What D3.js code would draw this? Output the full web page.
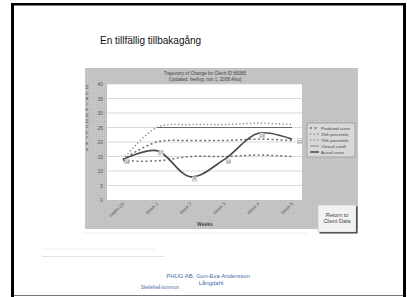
<!DOCTYPE html>
<html>
<head>
<meta charset="utf-8">
<script src="https://cdn.jsdelivr.net/npm/d3@7"></script>
<style>
  body { margin: 0; background: #fff; }
  svg { display: block; font-family: "Liberation Sans", Arial, sans-serif; }
</style>
</head>
<body>
<div id="slide"></div>
<script>
// chart values
var weeks = ["Intake (0)", "Week 1", "Week 2", "Week 3", "Week 4", "Week 5"];
var actualScore = [14, 17, 8, 14, 23, 21];
var predictedScore = [14, 20, 20.5, 20.5, 21, 20.5];
var pct25 = [13.5, 13.5, 15, 15, 15.5, 15];
var pct75 = [14, 25, 26, 26, 26.5, 26];
var cutoff = [null, 25, 25, 25, 25, 25];
var yTicks = [0, 5, 10, 15, 20, 25, 30, 35, 40];
var legendNames = ["Predicted score", "25th percentile", "75th percentile", "Clinical cutoff", "Actual score"];

var width = 407, height = 297;

var svg = d3.select("#slide").append("svg")
    .attr("width", width)
    .attr("height", height);

// dither texture for the pasted chart picture
var pat = svg.append("defs").append("pattern")
    .attr("id", "dither")
    .attr("width", 2).attr("height", 2)
    .attr("patternUnits", "userSpaceOnUse");
pat.append("rect").attr("width", 2).attr("height", 2).style("fill", "#c6c6c6");
pat.append("rect").attr("width", 1).attr("height", 1).style("fill", "#bababa");

// slide frame
svg.append("line").attr("x1", 12.5).attr("x2", 12.5).attr("y1", 3).attr("y2", 297)
    .style("stroke", "#000").style("stroke-width", 3);
svg.append("line").attr("x1", 11).attr("x2", 406).attr("y1", 4.2).attr("y2", 4.2)
    .style("stroke", "#000").style("stroke-width", 2.5);
svg.append("line").attr("x1", 404.5).attr("x2", 404.5).attr("y1", 3).attr("y2", 297)
    .style("stroke", "#000").style("stroke-width", 3);
svg.append("line").attr("x1", 14).attr("x2", 403).attr("y1", 295.5).attr("y2", 295.5)
    .style("stroke", "#777").style("stroke-width", 1);

// slide title
svg.append("text")
    .attr("x", 100).attr("y", 44)
    .style("font-size", "10px")
    .style("fill", "#111")
    .text("En tillfällig tillbakagång");

// chart picture background
svg.append("rect")
    .attr("x", 85).attr("y", 68).attr("width", 273).attr("height", 161)
    .style("fill", "url(#dither)");

var x = d3.scalePoint().domain(weeks).range([123, 292]);
var y = d3.scaleLinear().domain([0, 40]).range([200, 84]);

svg.append("rect")
    .attr("x", 107).attr("y", 84).attr("width", 195).attr("height", 116)
    .style("fill", "#fff");

// gridlines
svg.append("g").selectAll("line")
    .data(yTicks.slice(1))
    .enter().append("line")
    .attr("x1", 107).attr("x2", 302)
    .attr("y1", function (d) { return y(d); })
    .attr("y2", function (d) { return y(d); })
    .style("stroke", "#cfcfcf")
    .style("stroke-width", 0.8);

// y axis
var yAxis = svg.append("g")
    .attr("transform", "translate(107,0)")
    .call(d3.axisLeft(y).tickValues(yTicks).tickSize(0).tickPadding(4));
yAxis.select(".domain").remove();
yAxis.selectAll("text").style("font-size", "5px").style("fill", "#555");

// x axis labels
var xAxis = svg.append("g")
    .attr("transform", "translate(0,203)")
    .call(d3.axisBottom(x).tickSize(0).tickPadding(0));
xAxis.select(".domain").remove();
xAxis.selectAll("text")
    .style("font-size", "4.5px")
    .style("fill", "#555")
    .style("text-anchor", "end")
    .attr("dy", "0.3em")
    .attr("transform", "rotate(-45)");

svg.append("text")
    .attr("x", 205).attr("y", 226)
    .attr("text-anchor", "middle")
    .style("font-size", "5px")
    .style("font-weight", "bold")
    .style("fill", "#444")
    .text("Weeks");

// y axis title, stacked letters
var yTitle = "Scaled Scores".replace(" ", "");
svg.append("g").selectAll("text")
    .data(yTitle.split(""))
    .enter().append("text")
    .attr("x", 87)
    .attr("y", function (d, i) { return 89 + i * 5.6; })
    .attr("text-anchor", "middle")
    .style("font-size", "4.5px")
    .style("fill", "#555")
    .text(function (d) { return d; });

// chart title
svg.append("text")
    .attr("x", 205).attr("y", 75)
    .attr("text-anchor", "middle")
    .style("font-size", "4.6px")
    .style("fill", "#444")
    .text("Trajectory of Change for Client ID 86085");
svg.append("text")
    .attr("x", 205).attr("y", 80.5)
    .attr("text-anchor", "middle")
    .style("font-size", "4.6px")
    .style("fill", "#444")
    .text("(Updated: feeling: nov 1, 2008 Also)");

var line = d3.line()
    .defined(function (d) { return d != null; })
    .x(function (d, i) { return x(weeks[i]); })
    .y(function (d) { return y(d); });

var smooth = d3.line()
    .x(function (d, i) { return x(weeks[i]); })
    .y(function (d) { return y(d); })
    .curve(d3.curveCatmullRom.alpha(0.5));

var series = [
    {data: pct75, dash: "1.2,2.4", color: "#8a8a8a", w: 1.6},
    {data: predictedScore, dash: "2,2.5", color: "#6e6e6e", w: 1.5},
    {data: pct25, dash: "2,2.5", color: "#6e6e6e", w: 1.5}
];

svg.append("path")
    .datum(cutoff)
    .attr("d", line)
    .style("fill", "none")
    .style("stroke", "#666")
    .style("stroke-width", 1.1);

svg.append("g").selectAll("path")
    .data(series)
    .enter().append("path")
    .attr("d", function (d) { return smooth(d.data); })
    .style("fill", "none")
    .style("stroke", function (d) { return d.color; })
    .style("stroke-dasharray", function (d) { return d.dash; })
    .style("stroke-width", function (d) { return d.w; });

svg.append("path")
    .datum(actualScore)
    .attr("d", smooth)
    .style("fill", "none")
    .style("stroke", "#4a4a4a")
    .style("stroke-width", 1.7);

// value tags on actual score
var tags = svg.append("g").selectAll("g")
    .data(actualScore)
    .enter().append("g")
    .attr("transform", function (d, i) {
        var dx = i == weeks.length - 1 ? 8 : 4;
        return "translate(" + (x(weeks[i]) + dx) + "," + (y(d) + 2) + ")";
    });
tags.append("rect")
    .attr("x", -2.3).attr("y", -2.3).attr("width", 4.6).attr("height", 4.6)
    .style("fill", "#f4f4f4").style("stroke", "#999").style("stroke-width", 0.4);
tags.append("text")
    .attr("text-anchor", "middle")
    .attr("dy", "1.4")
    .style("font-size", "3.8px")
    .style("fill", "#444")
    .text(function (d) { return Math.round(d); });

// legend
var legend = svg.append("g").attr("transform", "translate(307,123)");
legend.append("rect")
    .attr("width", 48).attr("height", 34)
    .style("fill", "#d8d8d8").style("stroke", "#888").style("stroke-width", 0.6);
var legendStyle = [
    {dash: "2,2.5", color: "#6e6e6e", w: 1.3},
    {dash: "1.2,2.4", color: "#8a8a8a", w: 1.3},
    {dash: "1.2,2.4", color: "#8a8a8a", w: 1.3},
    {dash: null, color: "#777", w: 0.8},
    {dash: null, color: "#4a4a4a", w: 1.5}
];
var rows = legend.selectAll("g.row")
    .data(legendNames)
    .enter().append("g")
    .attr("class", "row")
    .attr("transform", function (d, i) { return "translate(0," + (5 + i * 6) + ")"; });
rows.append("line")
    .attr("x1", 3).attr("x2", 12)
    .style("stroke", function (d, i) { return legendStyle[i].color; })
    .style("stroke-dasharray", function (d, i) { return legendStyle[i].dash; })
    .style("stroke-width", function (d, i) { return legendStyle[i].w; });
rows.append("text")
    .attr("x", 14).attr("dy", "1.5")
    .style("font-size", "4.2px")
    .style("fill", "#444")
    .text(function (d) { return d; });

// return button
var btn = svg.append("g").attr("transform", "translate(318,205)");
btn.append("rect").attr("x", 1.5).attr("y", 1.5).attr("width", 38).attr("height", 27)
    .style("fill", "#333");
btn.append("rect").attr("width", 38).attr("height", 27)
    .style("fill", "#f2f2f2").style("stroke", "#bbb").style("stroke-width", 0.5);
btn.append("text").attr("x", 19).attr("y", 11.5).attr("text-anchor", "middle")
    .style("font-size", "5.5px").style("fill", "#444").text("Return to");
btn.append("text").attr("x", 19).attr("y", 18).attr("text-anchor", "middle")
    .style("font-size", "5.5px").style("fill", "#444").text("Client Data");

// faint lines under the chart
svg.append("line").attr("x1", 82).attr("x2", 307).attr("y1", 233).attr("y2", 233)
    .style("stroke", "#eee").style("stroke-width", 1);
svg.append("line").attr("x1", 42).attr("x2", 155).attr("y1", 249).attr("y2", 249)
    .style("stroke", "#eee").style("stroke-width", 1);
svg.append("line").attr("x1", 42).attr("x2", 165).attr("y1", 256.5).attr("y2", 256.5)
    .style("stroke", "#e2e2e2").style("stroke-width", 1);

// footer
svg.append("text").attr("x", 208).attr("y", 278).attr("text-anchor", "middle")
    .style("font-size", "6px").style("fill", "#4a6da8").text("PHUG AB, Gun-Eva Andersson");
svg.append("text").attr("x", 211).attr("y", 285).attr("text-anchor", "middle")
    .style("font-size", "6px").style("fill", "#4a6da8").text("Långdahl");
svg.append("text").attr("x", 160).attr("y", 289).attr("text-anchor", "middle")
    .style("font-size", "4.5px").style("fill", "#4a6da8").text("Skellefteå kommun");
</script>
</body>
</html>
